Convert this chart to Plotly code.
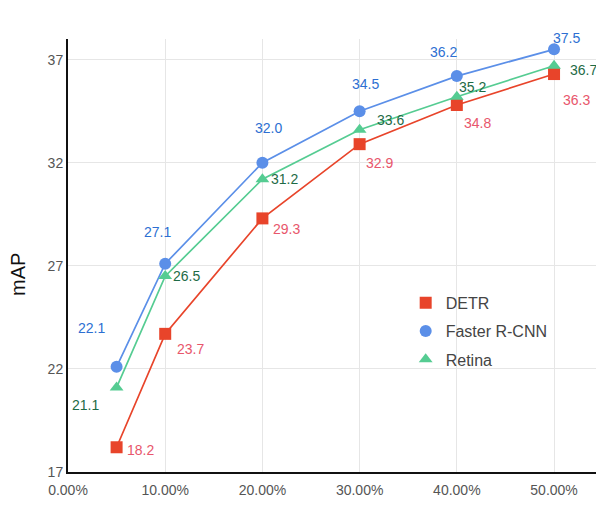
import plotly.graph_objects as go

x_vals = [0.05, 0.10, 0.20, 0.30, 0.40, 0.50]
detr = [18.2, 23.7, 29.3, 32.9, 34.8, 36.3]
faster = [22.1, 27.1, 32.0, 34.5, 36.2, 37.5]
retina = [21.1, 26.5, 31.2, 33.6, 35.2, 36.7]
y_ticks = [17, 22, 27, 32, 37]
x_ticks = [0.0, 0.1, 0.2, 0.3, 0.4, 0.5]

# label pixel offsets (dx, dy) relative to each point (style only)
detr_off = [(24, -3), (25, -15), (24, -11), (20, -19), (21, -18), (22, -26)]
faster_off = [(-25, 39), (-8, 32), (6, 35), (6, 27), (-13, 24), (12, 11)]
retina_off = [(-31, -18), (21, 0), (22, 0), (31, 10), (16, 10), (29, -4)]

series = [
    ("DETR", detr, "#e8442a", "#e8566c", "square", detr_off),
    ("Faster R-CNN", faster, "#5b8fe8", "#2d6fd2", "circle", faster_off),
    ("Retina", retina, "#55cc92", "#1e6b46", "triangle-up", retina_off),
]

fig = go.Figure()
annotations = []
for i, (name, vals, col, tcol, sym, offs) in enumerate(series):
    fig.add_trace(go.Scatter(
        x=x_vals, y=vals, mode="lines+markers", showlegend=False,
        line=dict(color=col, width=1.7),
        marker=dict(symbol=sym, size=12, color=col),
        hoverinfo="x+y",
    ))
    fig.add_trace(go.Scatter(
        x=[None], y=[None], mode="markers", name=name, legendgroup=f"g{i}",
        marker=dict(symbol=sym, size=12, color=col),
    ))
    for xv, yv, (dx, dy) in zip(x_vals, vals, offs):
        annotations.append(dict(
            x=xv, y=yv, xref="x", yref="y", text=f"{yv:.1f}", showarrow=False,
            xshift=dx, yshift=dy, xanchor="center", yanchor="middle",
            font=dict(size=14, color=tcol),
        ))

annotations.append(dict(
    x=0, y=0.455, xref="paper", yref="paper", text="mAP", showarrow=False,
    xshift=-50, textangle=-90, xanchor="center", yanchor="middle",
    font=dict(size=20, color="#111"),
))

fig.update_layout(
    width=604, height=518,
    margin=dict(l=60, r=8, t=31, b=54),
    plot_bgcolor="white", paper_bgcolor="white",
    font=dict(family="Arial, Liberation Sans, sans-serif", size=14, color="#555"),
    legend=dict(x=0.63, y=0.43, xanchor="left", yanchor="top",
                font=dict(size=16, color="#444"), bgcolor="rgba(0,0,0,0)",
                itemsizing="constant", tracegroupgap=4.5, traceorder="grouped"),
    showlegend=True,
    annotations=annotations,
)
fig.update_xaxes(
    range=[0, 0.5514], tickvals=x_ticks, tickformat=".2%",
    showgrid=True, gridcolor="#e6e6e6", gridwidth=1,
    showline=True, linecolor="#111", linewidth=2, zeroline=False,
    ticks="", tickfont=dict(size=14, color="#555"), ticklabelstandoff=4,
)
fig.update_yaxes(
    range=[17, 38.0], tickvals=y_ticks,
    showgrid=True, gridcolor="#e6e6e6", gridwidth=1,
    showline=True, linecolor="#111", linewidth=2, zeroline=False,
    ticks="", tickfont=dict(size=14, color="#555"),
)

fig.write_html("out.html")
